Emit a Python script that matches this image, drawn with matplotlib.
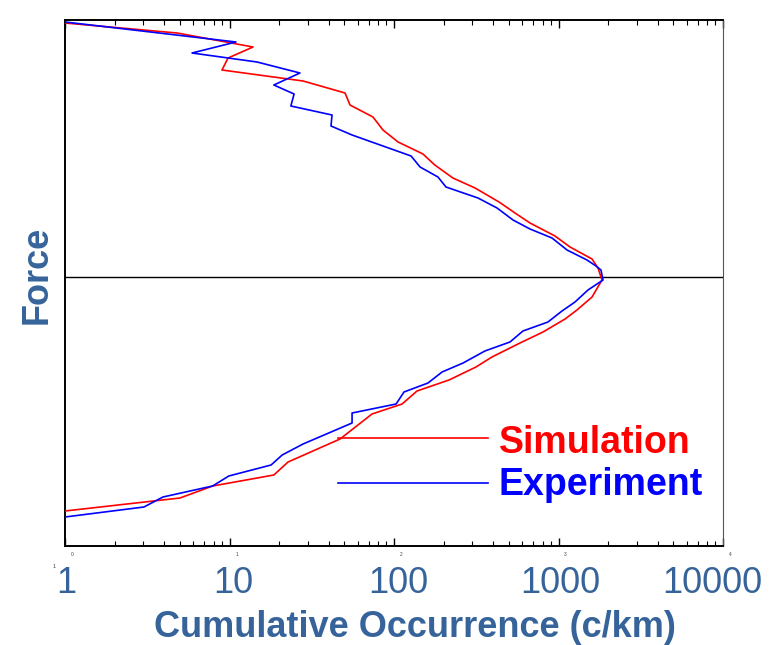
import matplotlib
matplotlib.use("Agg")
import matplotlib.pyplot as plt
from matplotlib.ticker import LogLocator, NullFormatter

plt.rcParams['font.family'] = ['Liberation Sans', 'DejaVu Sans']

# Simulation (red): cumulative occurrence vs force level (arbitrary units, 0 = zero line)
sim_occ = [1.0, 4.8, 13.9, 9.8, 9.0, 28.0, 50.4, 54.0, 74.5, 85.7, 105.8, 150, 177, 228,
           311, 435, 544, 671, 952, 1175, 1599, 1738, 1838, 1599, 1295, 1096, 805, 583,
           394, 315, 216, 138, 112, 73.5, 47.0, 22.7, 18.6, 7.9, 5.0, 1.0]
sim_force = [254, 244, 230, 219, 207, 196, 184, 172, 160, 147, 135, 123, 112, 99,
             89, 75, 64, 54, 41, 30, 18, 9, -3, -20, -33, -42, -55, -66,
             -80, -90, -103, -114, -127, -137, -162, -185, -198, -209, -221, -234]

# Experiment (blue)
exp_occ = [1.0, 10.95, 5.92, 14.7, 26.8, 18.6, 24.7, 23.6, 42.0, 41.4, 55.6, 127, 144,
           185, 207, 324, 423, 529, 671, 913, 1127, 1490, 1690, 1812, 1865, 1511, 1260,
           1050, 863, 608, 507, 357, 263, 196, 161, 115, 103, 55.6, 55.6, 28.0, 20.9,
           17.9, 9.9, 7.9, 3.94, 3.02, 1.0]
exp_force = [255, 235, 224, 215, 204, 192, 183, 171, 162, 151, 142, 121, 110,
             100, 90, 79, 69, 57, 48, 39, 27, 17, 11, 7, -3, -13, -25,
             -34, -45, -54, -65, -74, -86, -95, -106, -115, -127, -136, -146, -167, -178,
             -188, -199, -209, -220, -230, -240]

tick_values = [1, 10, 100, 1000, 10000]
tick_labels = ["1", "10", "100", "1000", "10000"]
tick_offsets = [1, 4, 4, 2, -11]
series_names = ["Simulation", "Experiment"]
series_colors = ["#FF0000", "#0000FF"]

text_color = "#36649A"

fig = plt.figure(figsize=(7.77, 6.45), dpi=100)
ax = fig.add_axes([65/777, 99/645, 658/777, 526/645])

ax.plot(sim_occ, sim_force, color=series_colors[0], lw=1.2, zorder=3)
ax.plot(exp_occ, exp_force, color=series_colors[1], lw=1.2, zorder=3)
ax.axhline(0, color="black", lw=1.0, zorder=2)

ax.set_xscale("log")
ax.set_xlim(1, 10000)
ax.set_ylim(-269, 257)

ax.xaxis.set_major_locator(LogLocator(base=10, numticks=10))
ax.xaxis.set_minor_locator(LogLocator(base=10, subs=range(2, 10), numticks=100))
ax.xaxis.set_major_formatter(NullFormatter())
ax.xaxis.set_minor_formatter(NullFormatter())
ax.tick_params(axis="x", which="both", direction="in", top=True, bottom=True,
               labelbottom=False, color="black")
ax.tick_params(axis="x", which="major", length=6, width=1.0)
ax.tick_params(axis="x", which="minor", length=3.5, width=0.8)
ax.set_yticks([])

for s in ["left", "bottom", "top"]:
    ax.spines[s].set_linewidth(1.4)
ax.spines["right"].set_linewidth(0.8)
ax.spines["right"].set_color("#555555")

# tick labels
for v, lab, off in zip(tick_values, tick_labels, tick_offsets):
    ax.annotate(lab, xy=(v, -0.0894), xycoords=("data", "axes fraction"),
                xytext=(off, 0), textcoords="offset pixels",
                ha="center", va="baseline", fontsize=26, color=text_color,
                annotation_clip=False)
    ax.annotate(str(tick_labels.index(lab)), xy=(v, -0.017), xycoords=("data", "axes fraction"),
                xytext=(7, 0), textcoords="offset pixels",
                ha="center", va="center", fontsize=3.5, color="#444444",
                annotation_clip=False)
fig.text(54/777, 1 - 567/645, "1", fontsize=4, color="#444444", ha="center", va="center")

# legend
leg_y = [0.205, 0.120]
leg_base = [0.177, 0.097]
for name, col, yl, yb in zip(series_names, series_colors, leg_y, leg_base):
    ax.plot([0.415, 0.643], [yl, yl], transform=ax.transAxes, color=col, lw=1.2,
            clip_on=False, zorder=4)
    ax.text(0.659, yb, name, transform=ax.transAxes, color=col, fontsize=27,
            fontweight="bold", ha="left", va="baseline")

fig.text(415/777, 8/645, "Cumulative Occurrence (c/km)", fontsize=26, fontweight="bold",
         color=text_color, ha="center", va="baseline")
fig.text(37/777, 1 - 275/645, "Force", fontsize=26, fontweight="bold", color=text_color,
         rotation=90, ha="center", va="center")

fig.savefig("out.png", dpi=100)
